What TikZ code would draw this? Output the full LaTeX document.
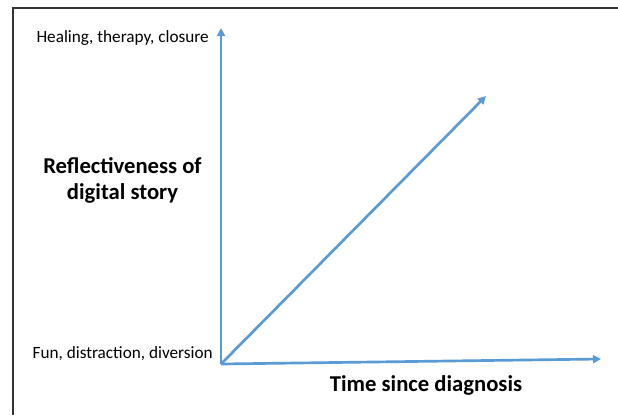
\documentclass[tikz,border=0pt]{standalone}
\usepackage{fontspec}
\setmainfont{Carlito}
\usetikzlibrary{arrows.meta}
\definecolor{axisblue}{HTML}{5B9BD5}
\definecolor{framegray}{HTML}{333333}
\begin{document}
\begin{tikzpicture}[x=0.75pt,y=-0.75pt,
  axis/.style={draw=axisblue,line width=2pt,-{Triangle[length=6pt,width=6pt]}},
  small/.style={font=\fontsize{12.9pt}{15pt}\selectfont,inner sep=0pt},
  big/.style={font=\fontsize{17pt}{19.5pt}\selectfont\bfseries,inner sep=0pt,align=center}]
\useasboundingbox (0,0) rectangle (618,415);
\fill[white] (0,0) rectangle (618,415);
\draw[framegray,line width=1.2pt] (13,415) -- (13,8) -- (618,8);
\coordinate (o) at (221,364);
\coordinate (ytip) at (221,28);
\coordinate (xtip) at (601,359);
\coordinate (dtip) at (486,96);
\draw[axis] (o) -- (ytip);
\draw[axis] (o) -- (xtip);
\draw[axis] (o) -- (dtip);
\node[small,anchor=east] (hi) at (209,38) {Healing, therapy, closure};
\node[small,anchor=east] (lo) at (213,354) {Fun, distraction, diversion};
\node[big] (yl) at (122.5,180) {Reflectiveness of\\digital story};
\node[big] (xl) at (426,385) {Time since diagnosis};
\end{tikzpicture}
\end{document}
